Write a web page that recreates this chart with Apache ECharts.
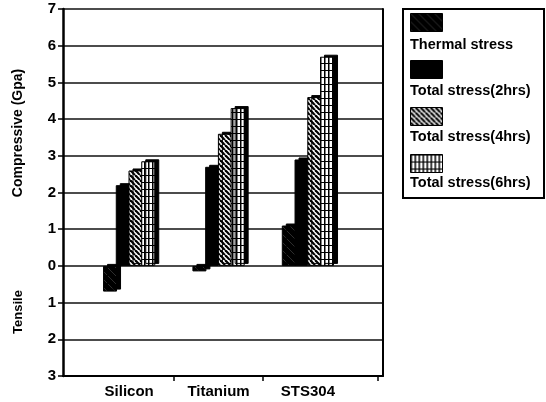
<!DOCTYPE html>
<html>
<head>
<meta charset="utf-8">
<script src="https://cdn.jsdelivr.net/npm/echarts@6/dist/echarts.min.js"></script>
<style>
  html, body { margin: 0; padding: 0; background: #fff; }
  #chart { width: 546px; height: 402px; }
</style>
</head>
<body>
<div id="chart"></div>
<script>
// Stress per substrate, in GPa (positive = compressive, negative = tensile)
const categories = ['Silicon', 'Titanium', 'STS304'];
const thermalStress = [-0.7, -0.15, 1.1];
const totalStress2h = [2.2, 2.7, 2.9];
const totalStress4h = [2.6, 3.6, 4.6];
const totalStress6h = [2.85, 4.3, 5.7];
const seriesNames = ['Thermal stress', 'Total stress(2hrs)', 'Total stress(4hrs)', 'Total stress(6hrs)'];
const yMin = -3, yMax = 7, yStep = 1;
const tickBetween = [0.5, 1.5, 2.78];

const FONT = '"Liberation Sans", Arial, Helvetica, sans-serif';

// Fill patterns for the monochrome bars
function makePattern(w, h, draw) {
  const c = document.createElement('canvas');
  c.width = w; c.height = h;
  const ctx = c.getContext('2d');
  draw(ctx, w, h);
  return { image: c, repeat: 'repeat' };
}
function backDiagonals(ctx, w, h, color, lw) {
  ctx.strokeStyle = color; ctx.lineWidth = lw;
  for (let k = -2; k <= 2; k++) {
    ctx.beginPath();
    ctx.moveTo(k * w, 0);
    ctx.lineTo(k * w + w, h);
    ctx.stroke();
  }
}
const thermalFill = makePattern(8, 8, (ctx, w, h) => {
  ctx.fillStyle = '#000'; ctx.fillRect(0, 0, w, h);
  ctx.globalAlpha = 0.18;
  backDiagonals(ctx, w, h, '#fff', 1);
});
const hatchFill = makePattern(5, 5, (ctx, w, h) => {
  ctx.fillStyle = '#fff'; ctx.fillRect(0, 0, w, h);
  backDiagonals(ctx, w, h, '#000', 2.2);
});
const gridFill = makePattern(4, 7, (ctx, w, h) => {
  ctx.fillStyle = '#fff'; ctx.fillRect(0, 0, w, h);
  ctx.fillStyle = '#000';
  ctx.fillRect(0, 0, 1.5, h);
  ctx.fillRect(0, 0, w, 1);
});
const fills = [thermalFill, '#000', hatchFill, gridFill];
const values = [thermalStress, totalStress2h, totalStress4h, totalStress6h];

const series = seriesNames.map((name, s) => ({
  name,
  type: 'bar',
  barWidth: 14,
  barGap: '-9%',
  data: categories.map((c, i) => [i, values[s][i]]),
  itemStyle: {
    color: fills[s],
    borderColor: '#000',
    borderWidth: 1,
    shadowColor: '#000',
    shadowBlur: 0,
    shadowOffsetX: 4,
    shadowOffsetY: -2
  }
}));

const chart = echarts.init(document.getElementById('chart'), null, { renderer: 'canvas' });
chart.setOption({
  animation: false,
  backgroundColor: '#fff',
  grid: { left: 63, right: 163, top: 9, bottom: 26 },
  xAxis: {
    type: 'value',
    min: -0.74,
    max: 2.84,
    splitLine: { show: false },
    axisLine: { show: true, onZero: false, lineStyle: { color: '#000', width: 2 } },
    axisTick: {
      show: true, inside: false, length: 5, customValues: tickBetween,
      lineStyle: { color: '#000', width: 1.5 }
    },
    axisLabel: {
      customValues: categories.map((c, i) => i),
      formatter: v => categories[Math.round(v)] || '',
      color: '#000', fontFamily: FONT, fontWeight: 'bold', fontSize: 15, margin: 8
    }
  },
  yAxis: [{
    type: 'value',
    min: yMin, max: yMax, interval: yStep,
    axisLine: { show: true, onZero: false, lineStyle: { color: '#000', width: 2.5 } },
    axisTick: { show: true, length: 5, lineStyle: { color: '#000', width: 1.5 } },
    axisLabel: {
      formatter: v => String(Math.abs(v)),
      color: '#000', fontFamily: FONT, fontWeight: 'bold', fontSize: 15, margin: 7
    },
    splitLine: { show: true, lineStyle: { color: '#111', width: 1.5 } }
  }, {
    type: 'value',
    position: 'right',
    min: yMin, max: yMax, interval: yStep,
    axisLine: { show: true, onZero: false, lineStyle: { color: '#000', width: 2 } },
    axisTick: { show: false },
    axisLabel: { show: false },
    splitLine: { show: false }
  }],
  legend: [{
    // swatch column
    orient: 'vertical',
    left: 410, top: 13, padding: 0,
    itemWidth: 32, itemHeight: 18, itemGap: 28,
    icon: 'rect',
    selectedMode: false,
    data: seriesNames,
    formatter: () => '',
    textStyle: { fontSize: 10 },
    itemStyle: { borderColor: '#000', borderWidth: 1, shadowColor: 'rgba(0,0,0,0)', shadowOffsetX: 0, shadowOffsetY: 0 }
  }, {
    // caption column, set below each swatch
    orient: 'vertical',
    left: 405, top: 36, padding: 0,
    itemWidth: 0, itemHeight: 0, itemGap: 29,
    icon: 'rect',
    selectedMode: false,
    data: seriesNames,
    itemStyle: { opacity: 0, borderWidth: 0, shadowColor: 'rgba(0,0,0,0)' },
    textStyle: { color: '#000', fontFamily: FONT, fontWeight: 'bold', fontSize: 14.5, lineHeight: 17, padding: 0 }
  }],
  graphic: [{
    type: 'rect',
    shape: { x: 403, y: 9, width: 141, height: 189 },
    style: { fill: 'none', stroke: '#000', lineWidth: 2 },
    silent: true
  }, {
    type: 'text',
    x: 18, y: 133, rotation: Math.PI / 2,
    style: {
      text: 'Compressive (Gpa)', fill: '#000',
      font: 'bold 14px ' + FONT, align: 'center', verticalAlign: 'middle'
    }
  }, {
    type: 'text',
    x: 18, y: 312, rotation: Math.PI / 2,
    style: {
      text: 'Tensile', fill: '#000',
      font: 'bold 13px ' + FONT, align: 'center', verticalAlign: 'middle'
    }
  }],
  series
});
</script>
</body>
</html>
